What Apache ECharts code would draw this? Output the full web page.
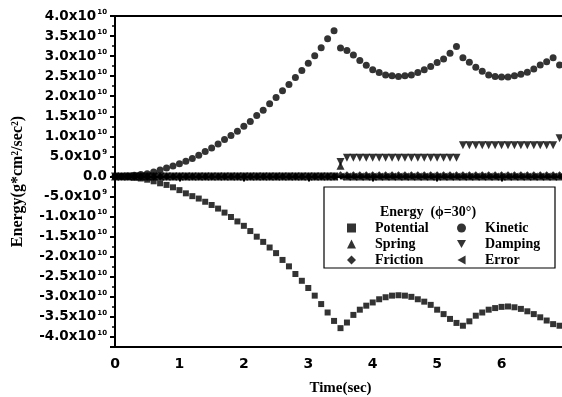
<!DOCTYPE html>
<html>
<head>
<meta charset="utf-8">
<script src="https://cdn.jsdelivr.net/npm/echarts@6/dist/echarts.min.js"></script>
<style>
  html, body { margin: 0; padding: 0; background: #fff; }
  #chart { width: 562px; height: 397px; }
</style>
</head>
<body>
<div id="chart"></div>
<script>
// time samples (sec)
const times = [
  0.0, 0.1, 0.2, 0.3, 0.4, 0.5, 0.6, 0.7, 0.8, 0.9,
  1.0, 1.1, 1.2, 1.3, 1.4, 1.5, 1.6, 1.7, 1.8, 1.9,
  2.0, 2.1, 2.2, 2.3, 2.4, 2.5, 2.6, 2.7, 2.8, 2.9,
  3.0, 3.1, 3.2, 3.3, 3.4, 3.5, 3.6, 3.7, 3.8, 3.9,
  4.0, 4.1, 4.2, 4.3, 4.4, 4.5, 4.6, 4.7, 4.8, 4.9,
  5.0, 5.1, 5.2, 5.3, 5.4, 5.5, 5.6, 5.7, 5.8, 5.9,
  6.0, 6.1, 6.2, 6.3, 6.4, 6.5, 6.6, 6.7, 6.8, 6.9
];

// energies in units of 1e10 g*cm^2/sec^2
const potential = [
  0.00, 0.00, -0.01, -0.03, -0.05, -0.08, -0.12, -0.17, -0.21, -0.27,
  -0.34, -0.42, -0.49, -0.55, -0.63, -0.71, -0.80, -0.90, -1.01, -1.12,
  -1.23, -1.36, -1.50, -1.63, -1.77, -1.91, -2.08, -2.24, -2.43, -2.60,
  -2.78, -2.97, -3.18, -3.39, -3.60, -3.78, -3.64, -3.45, -3.32, -3.22,
  -3.14, -3.06, -3.01, -2.97, -2.96, -2.97, -3.00, -3.06, -3.12, -3.20,
  -3.32, -3.43, -3.55, -3.65, -3.72, -3.61, -3.47, -3.39, -3.32, -3.28,
  -3.25, -3.24, -3.26, -3.30, -3.36, -3.43, -3.51, -3.59, -3.68, -3.72
];
const kinetic = [
  0.00, 0.00, 0.01, 0.03, 0.05, 0.07, 0.11, 0.16, 0.21, 0.26,
  0.32, 0.38, 0.45, 0.53, 0.62, 0.71, 0.81, 0.92, 1.02, 1.13,
  1.25, 1.37, 1.52, 1.65, 1.81, 1.97, 2.14, 2.29, 2.47, 2.64,
  2.82, 3.01, 3.21, 3.43, 3.63, 3.20, 3.14, 3.03, 2.89, 2.77,
  2.66, 2.59, 2.53, 2.51, 2.49, 2.51, 2.53, 2.59, 2.66, 2.74,
  2.84, 2.93, 3.07, 3.24, 2.96, 2.85, 2.72, 2.62, 2.53, 2.49,
  2.48, 2.48, 2.51, 2.55, 2.60, 2.68, 2.78, 2.86, 2.96, 2.78
];
const spring = [
  0, 0, 0, 0, 0, 0, 0, 0, 0, 0,
  0, 0, 0, 0, 0, 0, 0, 0, 0, 0,
  0, 0, 0, 0, 0, 0, 0, 0, 0, 0,
  0, 0, 0, 0, 0, 0.27, 0, 0, 0, 0,
  0, 0, 0, 0, 0, 0, 0, 0, 0, 0,
  0, 0, 0, 0, 0, 0, 0, 0, 0, 0,
  0, 0, 0, 0, 0, 0, 0, 0, 0, 0
];
const damping = [
  0, 0, 0, 0, 0, 0, 0, 0, 0, 0,
  0, 0, 0, 0, 0, 0, 0, 0, 0, 0,
  0, 0, 0, 0, 0, 0, 0, 0, 0, 0,
  0, 0, 0, 0, 0, 0.36, 0.47, 0.47, 0.47, 0.47,
  0.47, 0.47, 0.47, 0.47, 0.47, 0.47, 0.47, 0.47, 0.47, 0.47,
  0.47, 0.47, 0.47, 0.47, 0.78, 0.78, 0.78, 0.78, 0.78, 0.78,
  0.78, 0.78, 0.78, 0.78, 0.78, 0.78, 0.78, 0.78, 0.78, 0.95
];
const friction = [
  0, 0, 0, 0, 0, 0, 0, 0, 0, 0,
  0, 0, 0, 0, 0, 0, 0, 0, 0, 0,
  0, 0, 0, 0, 0, 0, 0, 0, 0, 0,
  0, 0, 0, 0, 0, 0.03, 0.03, 0.03, 0.03, 0.03,
  0.03, 0.03, 0.03, 0.03, 0.03, 0.03, 0.03, 0.03, 0.03, 0.03,
  0.03, 0.03, 0.03, 0.03, 0.03, 0.03, 0.03, 0.03, 0.03, 0.03,
  0.03, 0.03, 0.03, 0.03, 0.03, 0.03, 0.03, 0.03, 0.03, 0.03
];
const error = [
  0, 0, 0, 0, 0, 0, 0, 0, 0, 0,
  0, 0, 0, 0, 0, 0, 0, 0, 0, 0,
  0, 0, 0, 0, 0, 0, 0, 0, 0, 0,
  0, 0, 0, 0, 0, 0, 0, 0, 0, 0,
  0, 0, 0, 0, 0, 0, 0, 0, 0, 0,
  0, 0, 0, 0, 0, 0, 0, 0, 0, 0,
  0, 0, 0, 0, 0, 0, 0, 0, 0, 0
];

const tickFont = "DejaVu Sans";
const serif = "Liberation Serif";

// legend icons (down / left triangles drawn as paths so they are not rotated back)
const downTri = "path://M0,0L10,0L5,9Z";
const leftTri = "path://M9,0L9,10L0,5Z";

const yLabel = (v) => {
  if (Math.abs(v * 2 - Math.round(v * 2)) > 1e-6) return "";
  if (Math.abs(v) < 1e-9) return "{b|0.0}";
  const actual = v * 1e10;
  const exp = Math.floor(Math.log10(Math.abs(actual)) + 1e-9);
  const m = (actual / Math.pow(10, exp)).toFixed(1);
  return `{b|${m}x10}{s|${exp}}`;
};

const mk = (name, data, symbol, size, rotate) => ({
  name,
  type: "scatter",
  data: times.map((t, i) => [t, data[i]]),
  symbol,
  symbolSize: size,
  symbolRotate: rotate || 0,
  itemStyle: { color: "#000" },
  silent: true,
});

const legendText = {
  fontFamily: serif, fontWeight: "bold", fontSize: 14, color: "#000",
  lineHeight: 14, padding: [0, 0, 0, 14],
};

const chart = echarts.init(document.getElementById("chart"));
chart.setOption({
  animation: false,
  grid: {
    left: 115, top: 16, right: -4, bottom: 50, containLabel: false, outerBoundsMode: "none",
    show: true, borderColor: "#000", borderWidth: 2,
  },
  xAxis: {
    type: "value", min: 0, max: 7, interval: 1,
    axisLine: { lineStyle: { color: "#000", width: 2 } },
    axisTick: { length: 5, lineStyle: { color: "#000", width: 2 } },
    minorTick: { show: true, splitNumber: 2, length: 3, lineStyle: { color: "#000", width: 1.5 } },
    splitLine: { show: false },
    axisLabel: { color: "#000", fontFamily: tickFont, fontWeight: "bold", fontSize: 14, margin: 10, showMaxLabel: false },
    name: "Time(sec)", nameLocation: "middle", nameGap: 34,
    nameTextStyle: { fontFamily: serif, fontWeight: "bold", fontSize: 15, color: "#000" },
  },
  yAxis: {
    type: "value", min: -4.25, max: 4, splitNumber: 16,
    axisLine: { lineStyle: { color: "#000", width: 2 } },
    axisTick: { length: 5, lineStyle: { color: "#000", width: 2 } },
    minorTick: { show: true, splitNumber: 2, length: 3, lineStyle: { color: "#000", width: 1.5 } },
    splitLine: { show: false },
    axisLabel: {
      formatter: yLabel, margin: 8, showMinLabel: false,
      rich: {
        b: { fontFamily: tickFont, fontWeight: "bold", fontSize: 13.5, color: "#000" },
        s: { fontFamily: tickFont, fontWeight: "bold", fontSize: 7, color: "#000", padding: [0, 0, 8, 1] },
      },
    },
    name: "Energy(g*cm²/sec²)", nameLocation: "middle", nameGap: 89,
    nameTextStyle: { fontFamily: serif, fontWeight: "bold", fontSize: 16, color: "#000" },
  },
  legend: [
    { left: 342, top: 216, orient: "vertical", itemWidth: 9, itemHeight: 9, itemGap: 2, selectedMode: false,
      data: [
        { name: "Potential", icon: "rect" },
        { name: "Spring", icon: "triangle" },
        { name: "Friction", icon: "diamond" },
      ],
      textStyle: legendText },
    { left: 452, top: 216, orient: "vertical", itemWidth: 9, itemHeight: 9, itemGap: 2, selectedMode: false,
      data: [
        { name: "Kinetic", icon: "circle" },
        { name: "Damping", icon: downTri },
        { name: "Error", icon: leftTri },
      ],
      textStyle: legendText },
  ],
  graphic: [
    { type: "rect", shape: { x: 324, y: 187, width: 231, height: 81 },
      style: { fill: "none", stroke: "#000", lineWidth: 1.2 }, z: 10 },
    { type: "text", x: 428, y: 212,
      style: { text: "Energy  (ϕ=30°)", align: "center", verticalAlign: "middle",
        fontFamily: serif, fontWeight: "bold", fontSize: 14, fill: "#000" }, z: 10 },
  ],
  series: [
    mk("Potential", potential, "rect", 6),
    mk("Kinetic", kinetic, "circle", 7),
    mk("Spring", spring, "triangle", 8),
    mk("Damping", damping, "triangle", 8, 180),
    mk("Friction", friction, "diamond", 8),
    mk("Error", error, "triangle", 8, 90),
  ],
});
</script>
</body>
</html>
